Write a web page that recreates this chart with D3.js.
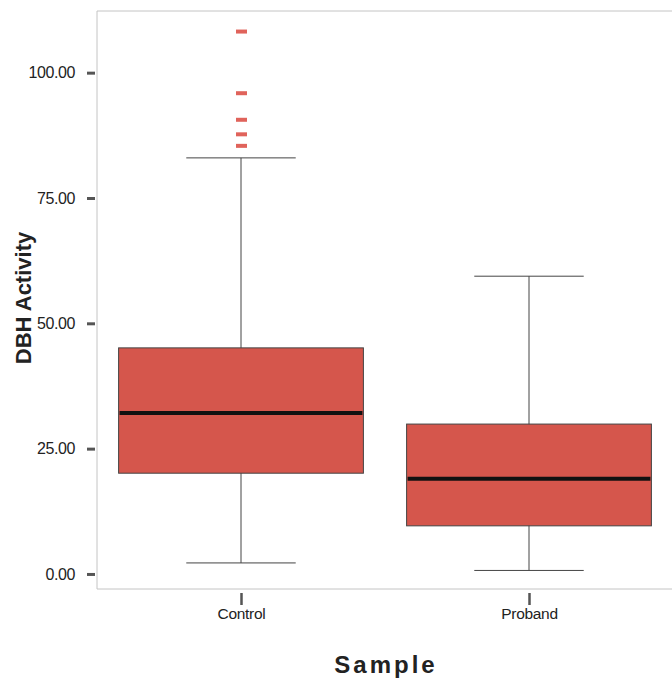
<!DOCTYPE html>
<html>
<head>
<meta charset="utf-8">
<script src="https://cdn.jsdelivr.net/npm/d3@7"></script>
<style>
  body { margin: 0; background: #fff; overflow: hidden; }
  svg { display: block; }
  text { font-family: "Liberation Sans", Arial, sans-serif; }
</style>
</head>
<body>
<div id="chart"></div>
<script>
// box stats
var groups = ["Control", "Proband"];
var whiskerLow = [2.2, 0.7];
var q1 = [20.1, 9.6];
var median = [32.1, 19.0];
var q3 = [45.1, 29.9];
var whiskerHigh = [83.0, 59.4];
var outliers = [[108.2, 95.9, 90.6, 87.7, 85.4], []];
var yTicks = [0, 25, 50, 75, 100];

var svgWidth = 672, svgHeight = 687;
var margin = {top: 11, right: -1, bottom: 98, left: 97};
var innerWidth = svgWidth - margin.left - margin.right;
var innerHeight = svgHeight - margin.top - margin.bottom;

var svg = d3.select("#chart").append("svg")
    .attr("width", svgWidth)
    .attr("height", svgHeight);

var xScale = d3.scalePoint()
    .domain(groups)
    .range([0, innerWidth])
    .padding(0.5);

var yScale = d3.scaleLinear()
    .domain([-3, 112.3])
    .range([innerHeight, 0]);

var boxWidth = xScale.step() * 0.85;
var capWidth = xScale.step() * 0.38;

var g = svg.append("g")
    .attr("transform", "translate(" + margin.left + "," + margin.top + ")");

// frame
g.append("path")
    .attr("d", "M" + innerWidth + ",0H0V" + innerHeight + "H" + innerWidth)
    .attr("fill", "none")
    .attr("stroke", "#c4c4c4")
    .attr("stroke-width", 1);

// y axis
var yAxis = d3.axisLeft(yScale)
    .tickValues(yTicks)
    .tickFormat(d3.format(".2f"))
    .tickSize(0)
    .tickPadding(22);

var yg = g.append("g").call(yAxis);
yg.select(".domain").remove();
yg.selectAll("text")
    .attr("font-size", 16)
    .attr("letter-spacing", -0.4)
    .attr("fill", "#222");
yg.selectAll(".tick").append("line")
    .attr("x1", -10).attr("x2", -2)
    .attr("stroke", "#555")
    .attr("stroke-width", 3);

// x axis
var xAxis = d3.axisBottom(xScale)
    .tickSize(0)
    .tickPadding(19);

var xg = g.append("g")
    .attr("transform", "translate(0," + innerHeight + ")")
    .call(xAxis);
xg.select(".domain").remove();
xg.selectAll("text")
    .attr("font-size", 15.5)
    .attr("letter-spacing", -0.3)
    .attr("fill", "#222");
xg.selectAll(".tick").append("line")
    .attr("y1", 4).attr("y2", 16)
    .attr("stroke", "#555")
    .attr("stroke-width", 2.5);

// boxes
var boxes = g.selectAll(".box")
    .data(groups)
    .enter().append("g")
    .attr("class", "box")
    .attr("transform", function(d) { return "translate(" + xScale(d) + ",0)"; });

boxes.append("line")
    .attr("y1", function(d, i) { return yScale(whiskerLow[i]); })
    .attr("y2", function(d, i) { return yScale(whiskerHigh[i]); })
    .attr("stroke", "#444")
    .attr("stroke-width", 1);

boxes.append("line")
    .attr("x1", -capWidth / 2).attr("x2", capWidth / 2)
    .attr("y1", function(d, i) { return yScale(whiskerHigh[i]); })
    .attr("y2", function(d, i) { return yScale(whiskerHigh[i]); })
    .attr("stroke", "#444");

boxes.append("line")
    .attr("x1", -capWidth / 2).attr("x2", capWidth / 2)
    .attr("y1", function(d, i) { return yScale(whiskerLow[i]); })
    .attr("y2", function(d, i) { return yScale(whiskerLow[i]); })
    .attr("stroke", "#444");

boxes.append("rect")
    .attr("x", -boxWidth / 2)
    .attr("width", boxWidth)
    .attr("y", function(d, i) { return yScale(q3[i]); })
    .attr("height", function(d, i) { return yScale(q1[i]) - yScale(q3[i]); })
    .attr("fill", "#d5564c")
    .attr("stroke", "#444")
    .attr("stroke-width", 1);

boxes.append("line")
    .attr("x1", -boxWidth / 2 + 1).attr("x2", boxWidth / 2 - 1)
    .attr("y1", function(d, i) { return yScale(median[i]); })
    .attr("y2", function(d, i) { return yScale(median[i]); })
    .attr("stroke", "#111")
    .attr("stroke-width", 4);

boxes.selectAll(".outlier")
    .data(function(d, i) { return outliers[i]; })
    .enter().append("rect")
    .attr("class", "outlier")
    .attr("x", -5)
    .attr("width", 11)
    .attr("y", function(v) { return yScale(v) - 2; })
    .attr("height", 4)
    .attr("fill", "#e0635b");

// axis titles
svg.append("text")
    .attr("transform", "translate(31," + 298 + ") rotate(-90)")
    .attr("text-anchor", "middle")
    .attr("font-size", 22)
    .attr("font-weight", "bold")
    .attr("fill", "#222")
    .text("DBH Activity");

svg.append("text")
    .attr("x", 386)
    .attr("y", 673)
    .attr("text-anchor", "middle")
    .attr("font-size", 24)
    .attr("font-weight", "bold")
    .attr("letter-spacing", 3)
    .attr("fill", "#222")
    .text("Sample");
</script>
</body>
</html>
